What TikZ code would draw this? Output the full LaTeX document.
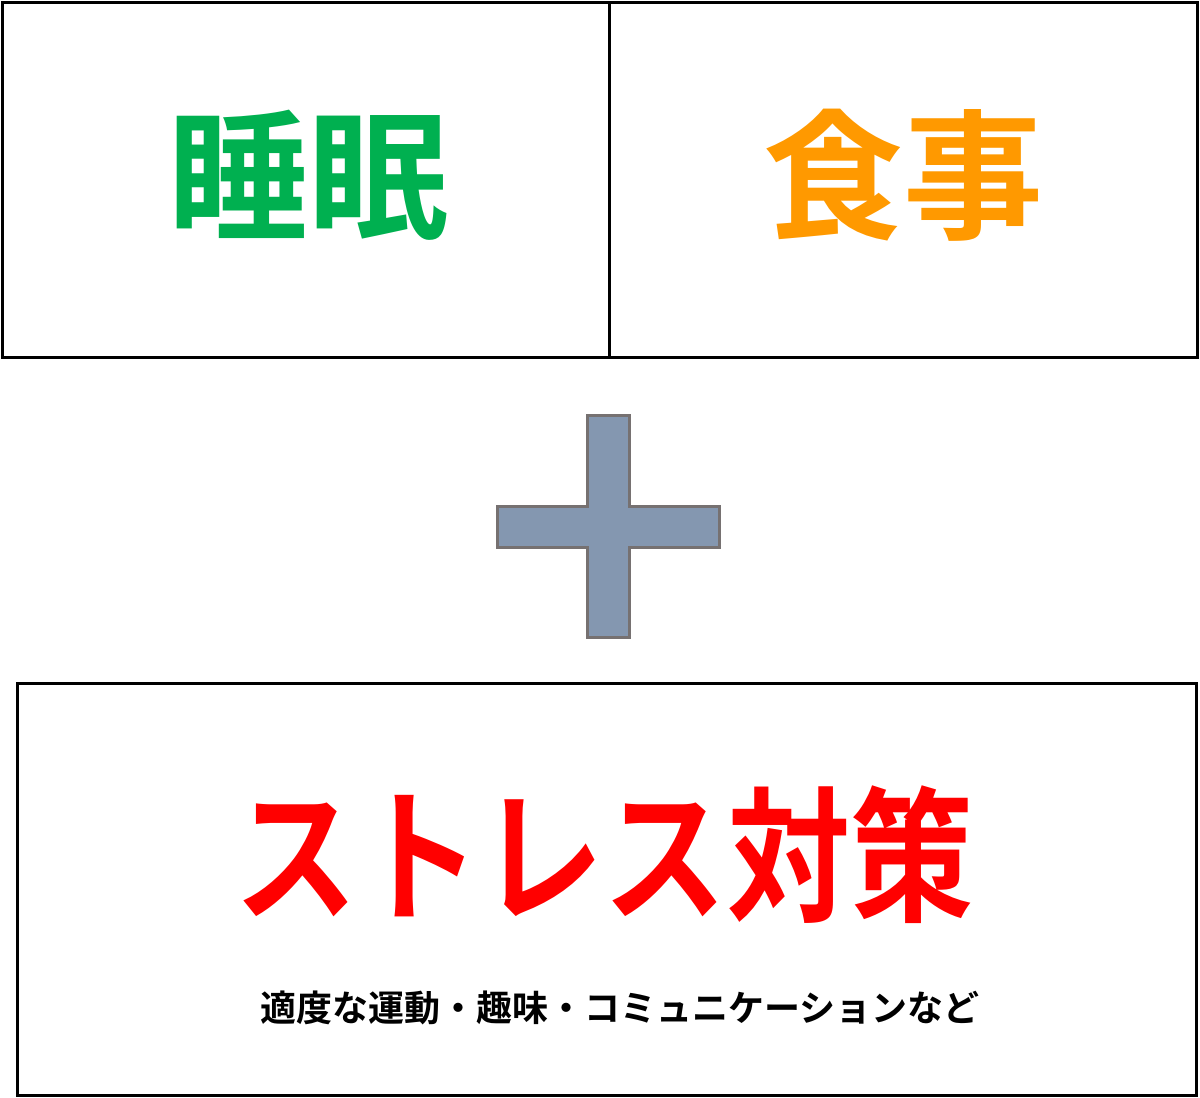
\documentclass[tikz,border=0pt]{standalone}
\usepackage{fontspec}
\newfontfamily\cjk{Noto Sans CJK JP Bold}
\definecolor{sleepgreen}{HTML}{00B050}
\definecolor{foodorange}{HTML}{FF9900}
\definecolor{plusfill}{HTML}{8497B0}
\definecolor{plusline}{HTML}{767171}
\begin{document}
\begin{tikzpicture}[x=1pt,y=-1pt,
  frame/.style={draw=black,line width=3pt},
  bigword/.style={font=\cjk\fontsize{140}{140}\selectfont,inner sep=0pt},
  note/.style={font=\cjk\fontsize{36}{36}\selectfont,inner sep=0pt}]
\useasboundingbox (0,0) rectangle (1200,1098);
\draw[frame] (2,2) rectangle (609,357);
\draw[frame] (609,2) rectangle (1197,357);
\draw[frame] (17,683) rectangle (1196,1095);
\node[bigword,text=sleepgreen] (sleep) at (308,175) {睡眠};
\node[bigword,text=foodorange] (food) at (903,175) {食事};
\draw[fill=plusfill,draw=plusline,line width=3pt]
  (587,415) -- (629,415) -- (629,506) -- (719,506) -- (719,547) -- (629,547)
  -- (629,637) -- (587,637) -- (587,547) -- (497,547) -- (497,506) -- (587,506) -- cycle;
\node[bigword,text=red,xscale=0.88,yscale=1.04] (stress) at (604,855) {ストレス対策};
\node[note] (sub) at (620,1008) {適度な運動・趣味・コミュニケーションなど};
\end{tikzpicture}
\end{document}
